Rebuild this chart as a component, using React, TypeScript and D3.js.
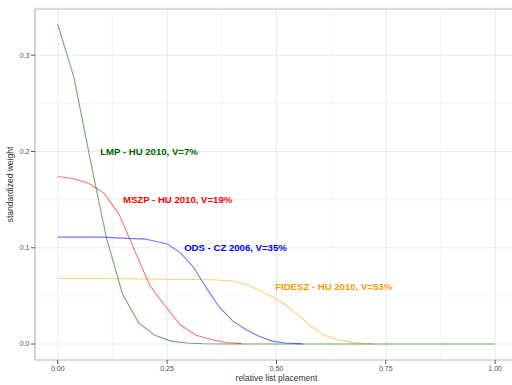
import React, { useRef, useEffect } from 'react';
import * as d3 from 'd3';

// series: relative list placement -> standardized weight
const lmpX = [0, 0.037, 0.074, 0.111, 0.148, 0.185, 0.222, 0.259, 0.296, 0.333, 0.4, 0.5, 0.6, 0.7, 0.8, 0.9, 1.0];
const lmpY = [0.332, 0.277, 0.192, 0.111, 0.052, 0.022, 0.009, 0.003, 0.001, 0.0003, 0, 0, 0, 0, 0, 0, 0];

const mszpX = [0, 0.035, 0.07, 0.105, 0.14, 0.175, 0.21, 0.245, 0.28, 0.315, 0.35, 0.385, 0.42];
const mszpY = [0.174, 0.172, 0.167, 0.157, 0.135, 0.098, 0.061, 0.04, 0.02, 0.0094, 0.0047, 0.0016, 0.0004];

const odsX = [0, 0.05, 0.1, 0.15, 0.2, 0.25, 0.28, 0.31, 0.34, 0.37, 0.4, 0.43, 0.46, 0.49, 0.52, 0.56];
const odsY = [0.111, 0.111, 0.111, 0.110, 0.109, 0.104, 0.095, 0.08, 0.058, 0.038, 0.024, 0.015, 0.008, 0.003, 0.001, 0.0002];

const fideszX = [0, 0.1, 0.2, 0.3, 0.35, 0.4, 0.43, 0.46, 0.49, 0.52, 0.55, 0.58, 0.61, 0.64, 0.67, 0.7, 0.72];
const fideszY = [0.068, 0.068, 0.0675, 0.067, 0.0668, 0.0655, 0.062, 0.056, 0.049, 0.041, 0.03, 0.018, 0.009, 0.0045, 0.002, 0.0006, 0.0002];

const seriesNames = ['FIDESZ - HU 2010, V=53%', 'ODS - CZ 2006, V=35%', 'MSZP - HU 2010, V=19%', 'LMP - HU 2010, V=7%'];
const labelX = [0.497, 0.289, 0.149, 0.097];
const labelY = [0.06, 0.1, 0.15, 0.2];

const xTicks = [0, 0.25, 0.5, 0.75, 1];
const xTickLabels = ['0.00', '0.25', '0.50', '0.75', '1.00'];
const yTicks = [0, 0.1, 0.2, 0.3];
const yTickLabels = ['0.0', '0.1', '0.2', '0.3'];

const App = () => {
  const svgRef = useRef<SVGSVGElement>(null);

  useEffect(() => {
    const svg = d3.select(svgRef.current);
    svg.selectAll('*').remove();

    const x = d3.scaleLinear().domain([-0.052, 1.05]).range([35, 517]);
    const y = d3.scaleLinear().domain([-0.0166, 0.348]).range([360, 9]);

    const font = 'Liberation Sans, Arial, sans-serif';

    svg.append('rect').attr('width', 512).attr('height', 385).attr('fill', '#fff');

    // grid
    const xMinor = xTicks.slice(0, -1).map(d => d + 0.125);
    const yMinor = yTicks.map(d => d + 0.05);
    svg.append('g').selectAll('line').data(xMinor).enter().append('line')
      .attr('x1', d => x(d)).attr('x2', d => x(d)).attr('y1', 9).attr('y2', 360)
      .attr('stroke', '#f4f4f4').attr('stroke-width', 0.8);
    svg.append('g').selectAll('line').data(yMinor).enter().append('line')
      .attr('y1', d => y(d)).attr('y2', d => y(d)).attr('x1', 35).attr('x2', 517)
      .attr('stroke', '#f4f4f4').attr('stroke-width', 0.8);
    svg.append('g').selectAll('line').data(xTicks).enter().append('line')
      .attr('x1', d => x(d)).attr('x2', d => x(d)).attr('y1', 9).attr('y2', 360)
      .attr('stroke', '#ebebeb').attr('stroke-width', 1.1);
    svg.append('g').selectAll('line').data(yTicks).enter().append('line')
      .attr('y1', d => y(d)).attr('y2', d => y(d)).attr('x1', 35).attr('x2', 517)
      .attr('stroke', '#ebebeb').attr('stroke-width', 1.1);

    // lines
    const line = d3.line<[number, number]>().x(d => x(d[0])).y(d => y(d[1]));
    const series = [
      { xs: fideszX, ys: fideszY, line: '#ffa500', text: '#ff9900' },
      { xs: odsX, ys: odsY, line: '#0000ff', text: '#0000ff' },
      { xs: mszpX, ys: mszpY, line: '#ff0000', text: '#ff0000' },
      { xs: lmpX, ys: lmpY, line: '#006400', text: '#006400' },
    ];
    series.forEach((s, i) => {
      const pts = s.xs.map((v, j) => [v, s.ys[j]] as [number, number]);
      svg.append('path').attr('d', line(pts)).attr('fill', 'none')
        .attr('stroke', s.line).attr('stroke-opacity', 0.55).attr('stroke-width', 1.1);
      svg.append('text').attr('x', x(labelX[i])).attr('y', y(labelY[i])).attr('dy', '0.35em')
        .attr('fill', s.text).attr('font-family', font).attr('font-size', 9.6).attr('font-weight', 'bold')
        .text(seriesNames[i]);
    });

    // border + axes
    svg.append('line').attr('x1', 35).attr('x2', 517).attr('y1', 9).attr('y2', 9)
      .attr('stroke', '#cfcfcf').attr('stroke-width', 1.6);
    svg.append('line').attr('x1', 35).attr('x2', 35).attr('y1', 9).attr('y2', 360)
      .attr('stroke', '#b8b8b8').attr('stroke-width', 1.2);
    svg.append('line').attr('x1', 35).attr('x2', 517).attr('y1', 360).attr('y2', 360)
      .attr('stroke', '#b8b8b8').attr('stroke-width', 1.2);

    const xa = svg.append('g');
    xTicks.forEach((t, i) => {
      xa.append('line').attr('x1', x(t)).attr('x2', x(t)).attr('y1', 360).attr('y2', 364)
        .attr('stroke', '#555').attr('stroke-width', 1);
      xa.append('text').attr('x', x(t)).attr('y', 371).attr('text-anchor', 'middle')
        .attr('font-family', font).attr('font-size', 7).attr('fill', '#4d4d4d').text(xTickLabels[i]);
    });
    const ya = svg.append('g');
    yTicks.forEach((t, i) => {
      ya.append('line').attr('x1', 31).attr('x2', 35).attr('y1', y(t)).attr('y2', y(t))
        .attr('stroke', '#555').attr('stroke-width', 1);
      ya.append('text').attr('x', 29.5).attr('y', y(t)).attr('dy', '0.35em').attr('text-anchor', 'end')
        .attr('font-family', font).attr('font-size', 7).attr('fill', '#4d4d4d').text(yTickLabels[i]);
    });

    svg.append('text').attr('x', x(0.5)).attr('y', 381).attr('text-anchor', 'middle')
      .attr('font-family', font).attr('font-size', 8.5).attr('fill', '#333').text('relative list placement');
    svg.append('text').attr('transform', `translate(13,${(9 + 360) / 2}) rotate(-90)`)
      .attr('text-anchor', 'middle').attr('font-family', font).attr('font-size', 8.5).attr('fill', '#333')
      .text('standardized weight');
  }, []);

  return <svg ref={svgRef} width={512} height={385} style={{ position: 'absolute', left: 0, top: 0, display: 'block' }} />;
};

export default App;
